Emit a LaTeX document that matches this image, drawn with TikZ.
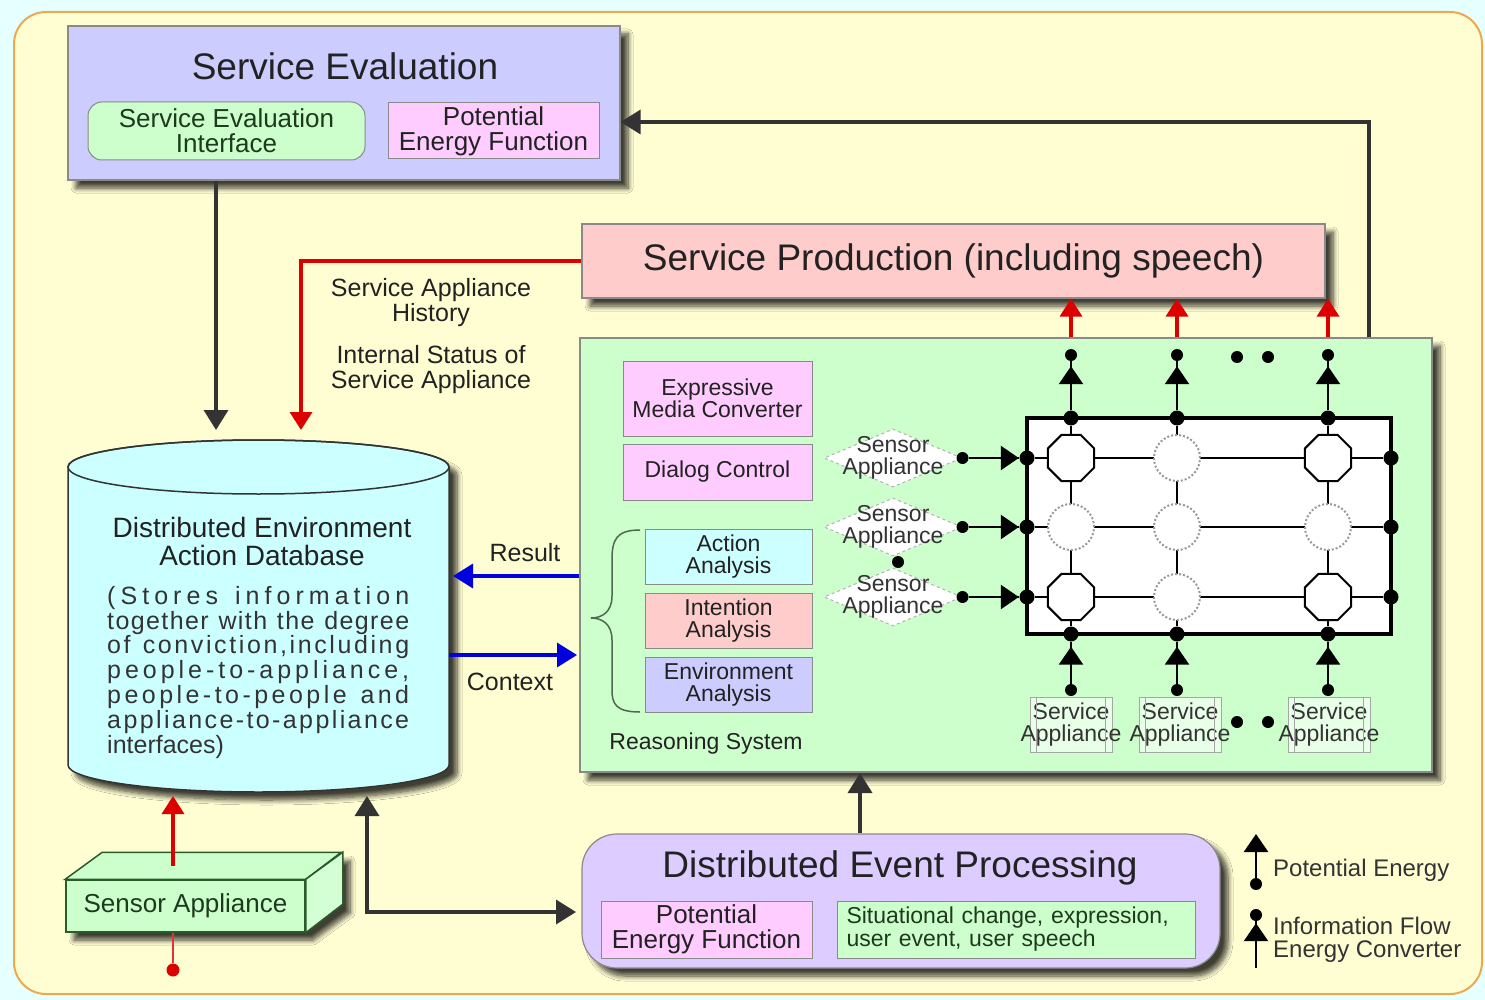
\documentclass[tikz,border=0pt]{standalone}
\usepackage{fontspec}
\setmainfont{Liberation Sans}
\usetikzlibrary{arrows.meta,shapes.geometric,shadows.blur}

\definecolor{bgcyan}{HTML}{E6FFFF}
\definecolor{panel}{HTML}{FFFDD2}
\definecolor{panelrim}{HTML}{F0A850}
\definecolor{lav}{HTML}{CCCCFF}
\definecolor{mint}{HTML}{CCFFCC}
\definecolor{rose}{HTML}{FFCCFF}
\definecolor{salmon}{HTML}{FFCCCC}
\definecolor{aqua}{HTML}{CCFFFF}
\definecolor{lilac}{HTML}{DDCCFF}
\definecolor{ink}{HTML}{222222}
\definecolor{greenink}{HTML}{1E3A1E}
\definecolor{darkline}{HTML}{333333}
\definecolor{arrred}{HTML}{DD0000}
\definecolor{arrblue}{HTML}{0000DD}
\definecolor{rim}{HTML}{8A8A8A}
\definecolor{bracec}{HTML}{506850}

\newcommand\fsz[2]{\fontsize{#1}{#2}\selectfont}
% letter-spaced justified line: stretchable glue after every character
\makeatletter
\def\spreadtxt#1{\spread@#1\relax}
\def\spread@#1{\ifx#1\relax\else#1\hskip0pt plus1fil\relax\expandafter\spread@\fi}
\makeatother
\newcommand\fullline[1]{\makebox[302pt][s]{\spreadtxt{#1}\unskip}}

\begin{document}
\begin{tikzpicture}[x=1pt,y=-1pt,
  shadowed/.style={blur shadow={shadow xshift=8pt, shadow yshift=-8pt,
      shadow blur steps=8, shadow blur radius=5pt, shadow opacity=75}},
  bigbox/.style={draw=rim, line width=1.2pt, inner sep=0pt, shadowed},
  subbox/.style={draw=rim, line width=1pt, inner sep=0pt, align=center,
      font=\fsz{26}{25}, text=ink},
  smallbox/.style={draw=rim, line width=1pt, inner sep=0pt, align=center,
      font=\fsz{23}{22}, text=ink},
  bigtitle/.style={font=\fsz{37}{40}, text=ink, inner sep=0pt},
  txtlbl/.style={font=\fsz{25}{25}, text=ink, align=center, inner sep=0pt},
  darkarr/.style={draw=darkline, line width=3.5pt, -{Triangle[width=24pt,length=20pt]}},
  darkboth/.style={draw=darkline, line width=3.5pt,
      {Triangle[width=24pt,length=20pt]}-{Triangle[width=24pt,length=20pt]}},
  redarr/.style={draw=arrred, line width=3.5pt, -{Triangle[width=22pt,length=18pt]}},
  bluearr/.style={draw=arrblue, line width=3.5pt, -{Triangle[width=24pt,length=20pt]}},
  gline/.style={draw=black, line width=2.5pt},
  gtri/.style={draw=black, line width=2.5pt, -{Triangle[width=24pt,length=18pt]}},
  fdot/.style={circle, fill=black, inner sep=0pt, minimum size=15pt},
  sdot/.style={circle, fill=black, inner sep=0pt, minimum size=12pt},
  oct/.style={regular polygon, regular polygon sides=8,
      draw=black, line width=2pt, fill=white, minimum size=50pt, inner sep=0pt},
  doct/.style={circle, draw=gray!80, dotted, line width=2pt, fill=white,
      minimum size=46pt, inner sep=0pt},
  sensor/.style={diamond, aspect=2.4, draw=gray!60, dashed, line width=1pt,
      fill=white, minimum width=138pt, minimum height=58pt, inner sep=0pt,
      font=\fsz{23}{22}, text=darkline, align=center},
  servbox/.style={rectangle, draw=gray!70, line width=1pt, fill=white!55!mint,
      minimum width=82pt, minimum height=55pt, inner sep=0pt,
      font=\fsz{23}{22}, text=darkline, align=center}
]
\useasboundingbox (0,0) rectangle (1485,1000);

% backdrop and rounded panel
\fill[bgcyan] (0,0) rectangle (1485,1000);
\draw[panelrim, line width=2pt, fill=panel, rounded corners=32pt]
  (14,12) rectangle (1482,994);

% ---------- Service Evaluation ----------
\node[bigbox, fill=lav, minimum width=552pt, minimum height=154pt] (se) at (344,103) {};
\node[bigtitle] (setitle) at (345,66) {Service Evaluation};
\node[subbox, fill=mint, rounded corners=14pt, text=greenink,
      minimum width=277pt, minimum height=58pt] (sei) at (226.5,131)
  {Service Evaluation\\Interface};
\node[subbox, fill=rose, minimum width=211pt, minimum height=56pt] (sepef) at (493.5,131)
  {Potential\\Energy Function};

% ---------- Service Production ----------
\node[bigbox, fill=salmon, minimum width=743pt, minimum height=74pt,
      font=\fsz{37}{40}, text=ink] (sp) at (953.5,261)
  {Service Production (including speech)};

% ---------- Reasoning system ----------
\node[bigbox, fill=mint, minimum width=852pt, minimum height=434pt] (rs) at (1006,555) {};
\node[smallbox, fill=rose, minimum width=189pt, minimum height=75pt] (emc) at (717.5,398.5)
  {Expressive\\Media Converter};
\node[smallbox, fill=rose, minimum width=189pt, minimum height=56pt] (dc) at (717.5,472)
  {Dialog Control};
\node[smallbox, fill=aqua, minimum width=167pt, minimum height=55pt] (aa) at (728.5,556.5)
  {Action\\Analysis};
\node[smallbox, fill=salmon, minimum width=167pt, minimum height=55pt] (ia) at (728.5,620.5)
  {Intention\\Analysis};
\node[smallbox, fill=lav, minimum width=167pt, minimum height=55pt] (ea) at (728.5,684.5)
  {Environment\\Analysis};
\draw[bracec, line width=1.5pt]
  (640,530) .. controls (616,530) and (612,540) .. (612,560) -- (612,596)
  .. controls (612,612) and (602,618) .. (591,618)
  .. controls (602,618) and (612,624) .. (612,640) -- (612,690)
  .. controls (612,704) and (616,712) .. (640,712);
\node[font=\fsz{23}{23}, text=ink] (rslabel) at (706,744) {Reasoning System};

% sensor appliances feeding the energy grid
\foreach \r/\y in {1/458,2/527,3/597} {
  \node[sensor] (sen\r) at (893,\y)
    {\makebox[0pt]{Sensor}\\\makebox[0pt]{Appliance}};
  \node[sdot] (s\r) at (sen\r.east) {};
}
\node[sdot] (senmid) at (898,562) {};

% energy grid
\node[draw=black, line width=4.5pt, fill=white, minimum width=364pt,
      minimum height=216pt, inner sep=0pt] (grid) at (1209,526) {};
\foreach \r/\y in {1/458,2/527,3/597} {
  \node[fdot] (l\r) at (1027,\y) {};
  \node[fdot] (r\r) at (1391,\y) {};
}
\foreach \c/\x in {1/1071,2/1177,3/1328} {
  \node[fdot] (t\c) at (\x,418) {};
  \node[fdot] (b\c) at (\x,634) {};
  \node[sdot] (u\c) at (\x,355) {};
  \node[sdot] (d\c) at (\x,690) {};
}
\foreach \r in {1,2,3} { \draw[gline, line width=2pt] (l\r) -- (r\r); }
\foreach \c in {1,2,3} { \draw[gline, line width=2pt] (t\c) -- (b\c); }
\node[oct]  (o11) at (1071,458) {};
\node[doct] (o12) at (1177,458) {};
\node[oct]  (o13) at (1328,458) {};
\node[doct] (o21) at (1071,527) {};
\node[doct] (o22) at (1177,527) {};
\node[doct] (o23) at (1328,527) {};
\node[oct]  (o31) at (1071,597) {};
\node[doct] (o32) at (1177,597) {};
\node[oct]  (o33) at (1328,597) {};

% energy converters on the grid rim
\foreach \r in {1,2,3} {
  \draw[gline] (s\r) -- (l\r);
  \draw[gtri, shorten >=0.5pt] (s\r) -- (l\r);
}
\foreach \c in {1,2,3} {
  \draw[gline] (t\c) -- (u\c);
  \draw[gtri, shorten >=5pt] (t\c) -- (u\c);
  \draw[gline] (d\c) -- (b\c);
  \draw[gtri, shorten >=5pt] (d\c) -- (b\c);
  \draw[redarr] (u\c |- rs.north) -- (u\c |- sp.south);
}
\node[sdot] (ua) at (1237,357) {};
\node[sdot] (ub) at (1268,357) {};

% service appliances
\foreach \c/\x in {1/1071,2/1180,3/1329} {
  \node[servbox] (sab\c) at (\x,724.5)
    {\makebox[0pt]{Service}\\\makebox[0pt]{Appliance}};
  \draw[gray!70, line width=1pt] ([xshift=7pt]sab\c.north west) -- ([xshift=7pt]sab\c.south west);
  \draw[gray!70, line width=1pt] ([xshift=-7pt]sab\c.north east) -- ([xshift=-7pt]sab\c.south east);
}
\node[sdot] (da) at (1237,722) {};
\node[sdot] (db2) at (1268,722) {};

% ---------- Distributed Environment Action Database ----------
\path[shadowed]
  (68,467) -- (68,765) arc[start angle=180, end angle=0, x radius=190.5, y radius=27]
  -- (449,467) arc[start angle=0, end angle=-180, x radius=190.5, y radius=27] -- cycle;
\draw[darkline, line width=1.5pt, fill=aqua]
  (68,467) -- (68,765) arc[start angle=180, end angle=0, x radius=190.5, y radius=27]
  -- (449,467) arc[start angle=0, end angle=-180, x radius=190.5, y radius=27] -- cycle;
\draw[darkline, line width=1.5pt] (258.5,467) ellipse[x radius=190.5, y radius=27];
\node[inner sep=0pt, minimum width=381pt, minimum height=352pt] (db) at (258.5,616) {};
\node[font=\fsz{28}{28}, text=ink, align=center, inner sep=0pt] (dbtitle) at (262,541)
  {Distributed Environment\\Action Database};
\node[anchor=north west, inner sep=0pt, align=left, font=\fsz{25}{24.8}, text=darkline]
  (dbnote) at (107,586)
  {\fullline{(Stores~information}\\
   \fullline{together~with~the~degree}\\
   \fullline{of~conviction,including}\\
   \fullline{people-to-appliance,}\\
   \fullline{people-to-people~and}\\
   \fullline{appliance-to-appliance}\\
   interfaces)};

% ---------- Sensor Appliance (block) ----------
\path[shadowed] (66,932) -- (66,880) -- (103,853) -- (342,853) -- (342,905) -- (305,932) -- cycle;
\node[draw=darkline!80!green, line width=1.5pt, fill=mint, minimum width=239pt,
      minimum height=52pt, inner sep=0pt, font=\fsz{26}{26}, text=greenink] (sa) at (185.5,906)
  {Sensor Appliance};
\draw[darkline!80!green, line width=1.5pt, fill=mint]
  (sa.north west) -- ++(37,-27) -- ++(239,0) -- (sa.north east) -- cycle;
\draw[darkline!80!green, line width=1.5pt, fill=mint!85!white]
  (sa.north east) -- ++(37,-27) -- ++(0,52) -- (sa.south east) -- cycle;

% ---------- Distributed Event Processing ----------
\node[bigbox, fill=lilac, rounded corners=35pt, minimum width=638pt,
      minimum height=134pt] (dep) at (901,901) {};
\node[bigtitle] (deptitle) at (900,868) {Distributed Event Processing};
\node[subbox, fill=rose, minimum width=211pt, minimum height=57pt] (deppef) at (706.5,929.5)
  {Potential\\Energy Function};
\node[subbox, fill=mint, font=\fsz{23}{23}, text=greenink, align=left,
      text width=340pt, minimum height=57pt, inner xsep=9pt] (sit) at (1016.5,929.5)
  {Situational change, expression,\\user event, user speech};

% ---------- connectors ----------
\coordinate (dbin1) at (216,430);
\draw[darkarr] (dbin1 |- se.south) -- (dbin1);
\coordinate (dbin2) at (301,430);
\draw[redarr] (sp.west) -| (dbin2);
\node[txtlbl] (hist) at (431,303) {Service Appliance\\History};
\node[txtlbl] (stat) at (431,370) {Internal Status of\\Service Appliance};

\coordinate (resin) at (453,576);
\draw[bluearr] (resin -| rs.west) -- (resin);
\node[txtlbl] (reslbl) at (525,553) {Result};
\coordinate (ctxin) at (577,655);
\draw[bluearr] (ctxin -| db.east) -- (ctxin);
\node[txtlbl] (ctxlbl) at (510,682) {Context};

\coordinate (bend) at (1369,122);
\draw[darkarr] (bend |- rs.north) -- (bend) -- (bend -| se.east);

\coordinate (rsin) at (860,773);
\draw[darkarr] (rsin |- dep.north) -- (rsin);

\coordinate (dbout) at (367,796);
\coordinate (depin) at (576,912);
\draw[darkboth] (dbout) |- (depin);

\coordinate (saout) at (173,866);
\coordinate (dbin3) at (173,796);
\draw[redarr] (saout) -- (dbin3);
\node[circle, fill=arrred, inner sep=0pt, minimum size=13pt] (rdot) at (173,970) {};
\draw[arrred!80, line width=2.5pt] (rdot |- sa.south) -- (rdot);

% ---------- legend ----------
\node[sdot] (pe) at (1256,884) {};
\coordinate (petip) at (1256,834);
\draw[gtri] (pe) -- (petip);
\node[anchor=west, font=\fsz{24}{23}, text=darkline, inner sep=0pt] (petext) at (1273,870)
  {Potential Energy};
\node[sdot] (ifd) at (1256,915) {};
\coordinate (iftail) at (1256,968);
\draw[gline] (iftail) -- (ifd);
\draw[gtri, shorten >=2pt] (iftail) -- (ifd);
\node[anchor=west, align=left, font=\fsz{24}{23}, text=darkline, inner sep=0pt] (iftext)
  at (1273,940) {Information Flow\\Energy Converter};
\end{tikzpicture}
\end{document}
